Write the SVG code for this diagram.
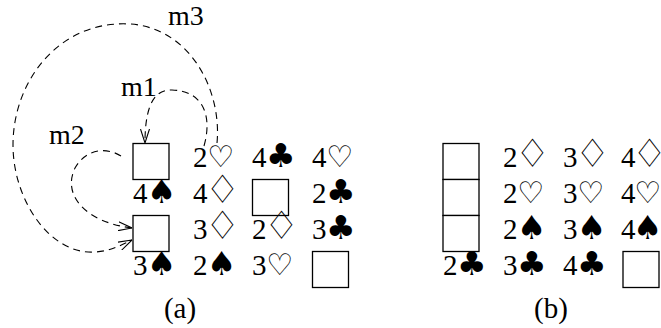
<svg xmlns="http://www.w3.org/2000/svg" width="661" height="328" viewBox="0 0 661 328">
<style>
.box{fill:#fff;stroke:#000;stroke-width:1.3}
.t{font-family:"Liberation Serif","DejaVu Serif",serif;font-size:29px;fill:#000}
.sp{font-family:"DejaVu Sans",sans-serif;font-size:33px}
.cl{font-family:"DejaVu Sans",sans-serif;font-size:33px}
.h{font-family:"DejaVu Sans",sans-serif;font-size:30px}
.d{font-family:"DejaVu Sans",sans-serif;font-size:39px}
.lbl{font-family:"Liberation Serif","DejaVu Serif",serif;font-size:28px;fill:#000}
.c{fill:none;stroke:#000;stroke-width:1.1;stroke-dasharray:7,5}
</style>
<defs>
<marker id="ah" viewBox="0 0 14 10" refX="14" refY="5" markerWidth="14" markerHeight="10" markerUnits="userSpaceOnUse" orient="auto">
<path d="M0,0.5 L14,5 L0,9.5" fill="none" stroke="#000" stroke-width="1.1"/>
</marker>
</defs>
<g id="panel-a">
<rect id="a-r1c1" class="box" x="133" y="143.5" width="36" height="36"/>
<text id="a-r1c2" class="t" x="193" y="167">2<tspan class="h" x="207">♡</tspan></text>
<text id="a-r1c3" class="t" x="252" y="167">4<tspan class="cl" x="266">♣</tspan></text>
<text id="a-r1c4" class="t" x="312" y="167">4<tspan class="h" x="326">♡</tspan></text>
<text id="a-r2c1" class="t" x="133" y="203">4<tspan class="sp" x="147">♠</tspan></text>
<text id="a-r2c2" class="t" x="193" y="203">4<tspan class="d" x="205">♢</tspan></text>
<rect id="a-r2c3" class="box" x="252.5" y="179.5" width="36" height="36"/>
<text id="a-r2c4" class="t" x="312" y="203">2<tspan class="cl" x="326">♣</tspan></text>
<rect id="a-r3c1" class="box" x="133" y="215.5" width="36" height="36"/>
<text id="a-r3c2" class="t" x="193" y="239">3<tspan class="d" x="205">♢</tspan></text>
<text id="a-r3c3" class="t" x="252" y="239">2<tspan class="d" x="264">♢</tspan></text>
<text id="a-r3c4" class="t" x="312" y="239">3<tspan class="cl" x="326">♣</tspan></text>
<text id="a-r4c1" class="t" x="133" y="275">3<tspan class="sp" x="147">♠</tspan></text>
<text id="a-r4c2" class="t" x="193" y="275">2<tspan class="sp" x="207">♠</tspan></text>
<text id="a-r4c3" class="t" x="252" y="275">3<tspan class="h" x="266">♡</tspan></text>
<rect id="a-r4c4" class="box" x="312.5" y="251.5" width="36" height="36"/>
<text id="cap-a" class="t" x="180" y="318" text-anchor="middle">(a)</text>
</g>
<g id="panel-b">
<rect id="b-r1c1" class="box" x="443" y="143.5" width="36" height="36"/>
<rect id="b-r2c1" class="box" x="443" y="179.5" width="36" height="36"/>
<rect id="b-r3c1" class="box" x="443" y="215.5" width="36" height="36"/>
<text id="b-r1c2" class="t" x="503" y="167">2<tspan class="d" x="515">♢</tspan></text>
<text id="b-r1c3" class="t" x="563" y="167">3<tspan class="d" x="575">♢</tspan></text>
<text id="b-r1c4" class="t" x="621" y="167">4<tspan class="d" x="632">♢</tspan></text>
<text id="b-r2c2" class="t" x="503" y="203">2<tspan class="h" x="517">♡</tspan></text>
<text id="b-r2c3" class="t" x="563" y="203">3<tspan class="h" x="577">♡</tspan></text>
<text id="b-r2c4" class="t" x="621" y="203">4<tspan class="h" x="634">♡</tspan></text>
<text id="b-r3c2" class="t" x="503" y="239">2<tspan class="sp" x="517">♠</tspan></text>
<text id="b-r3c3" class="t" x="563" y="239">3<tspan class="sp" x="577">♠</tspan></text>
<text id="b-r3c4" class="t" x="621" y="239">4<tspan class="sp" x="633">♠</tspan></text>
<text id="b-r4c1" class="t" x="443" y="275">2<tspan class="cl" x="457">♣</tspan></text>
<text id="b-r4c2" class="t" x="503" y="275">3<tspan class="cl" x="517">♣</tspan></text>
<text id="b-r4c3" class="t" x="563" y="275">4<tspan class="cl" x="577">♣</tspan></text>
<rect id="b-r4c4" class="box" x="623" y="251.5" width="36" height="36"/>
<text id="cap-b" class="t" x="551" y="318" text-anchor="middle">(b)</text>
</g>
<g id="connectors">
<path id="m1" class="c" d="M204,146 C212,118 205,91 172,90 C150,89 145,115 145,143" marker-end="url(#ah)"/>
<path id="m2" class="c" d="M121,156 C105,146 85,150 75,168 C62,195 85,222 132,228" marker-end="url(#ah)"/>
<path id="m3" class="c" d="M217,143 C222,90 190,28 130,24 C60,20 13,80 13,145 C13,200 50,255 95,252 C110,251 120,246 132,240" marker-end="url(#ah)"/>
<text id="lbl-m1" class="lbl" x="121" y="96">m1</text>
<text id="lbl-m2" class="lbl" x="49" y="144">m2</text>
<text id="lbl-m3" class="lbl" x="168" y="25">m3</text>
</g>
</svg>
